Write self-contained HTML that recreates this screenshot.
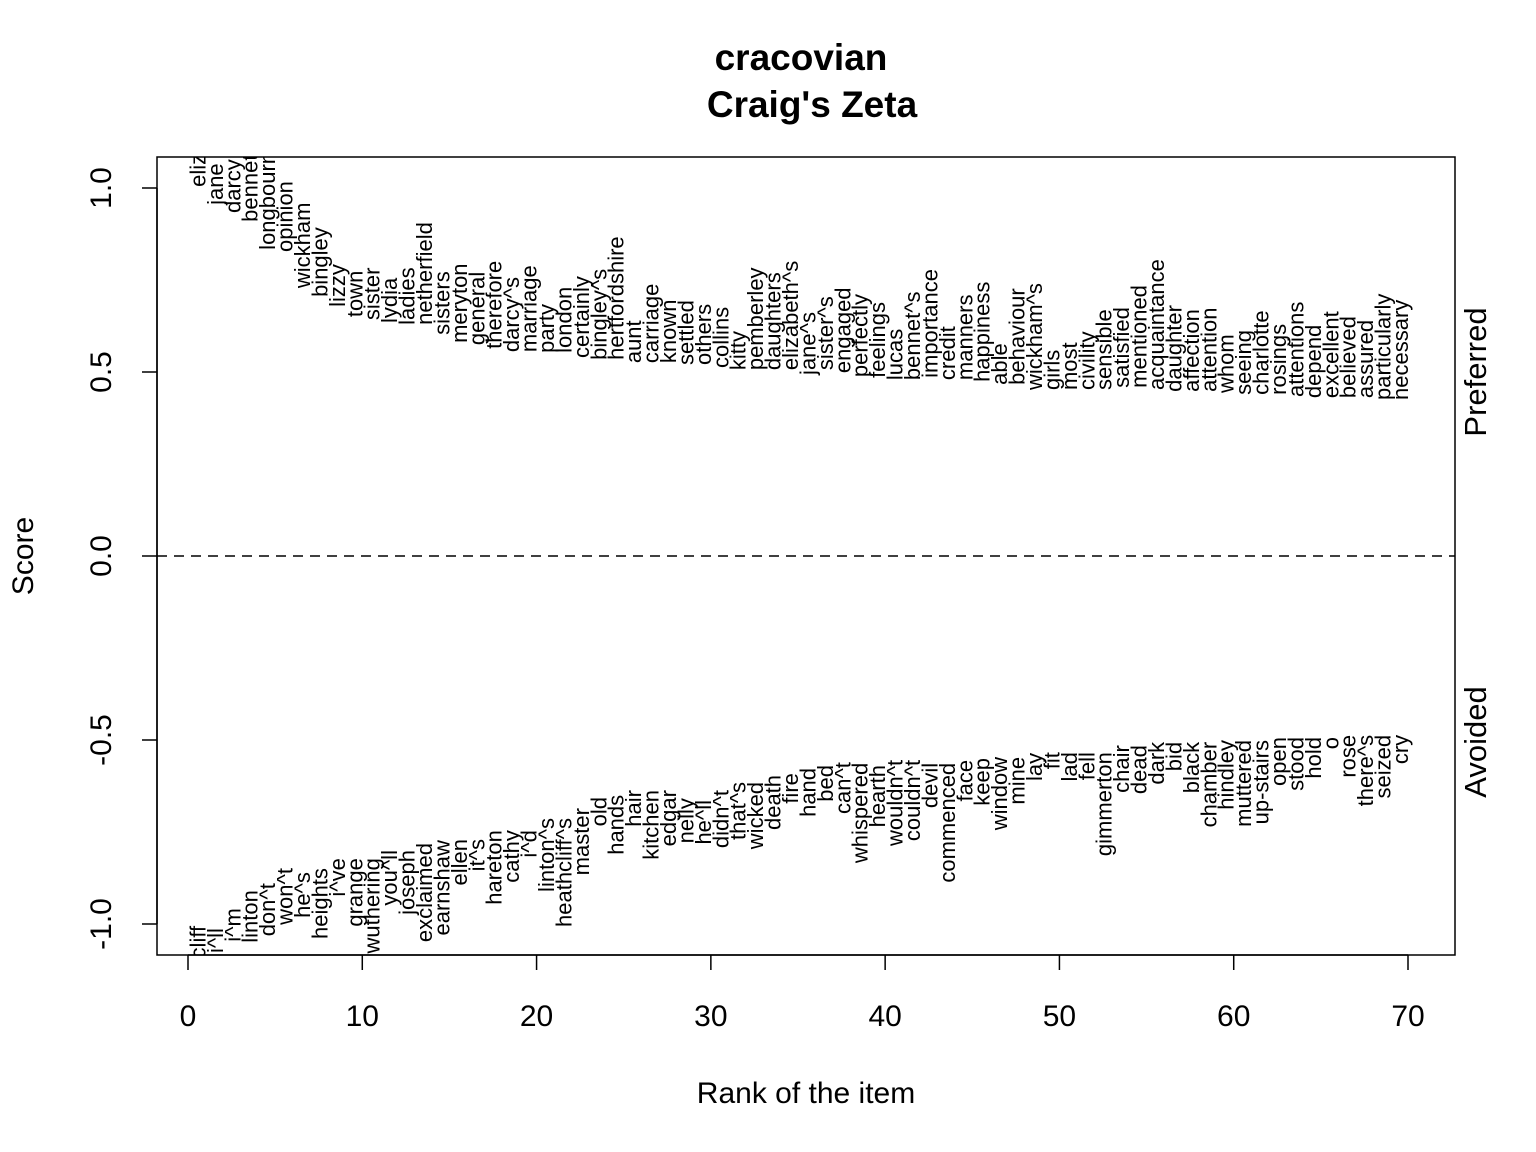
<!DOCTYPE html>
<html><head><meta charset="utf-8"><style>
html,body{margin:0;padding:0;background:#fff}
svg{display:block;font-family:"Liberation Sans",Arial,sans-serif}
</style></head><body>
<svg id="chart" width="1536" height="1152" viewBox="0 0 1536 1152" xmlns="http://www.w3.org/2000/svg">
<defs><clipPath id="plotclip"><rect x="157" y="157" width="1298" height="798"/></clipPath></defs>
<text x="801" y="70" text-anchor="middle" font-size="37" font-weight="bold">cracovian</text>
<text x="812" y="117" text-anchor="middle" font-size="37" font-weight="bold">Craig's Zeta</text>
<rect x="157" y="157" width="1298" height="798" fill="none" stroke="#000" stroke-width="1.5"/>
<line x1="157" x2="1455" y1="556" y2="556" stroke="#000" stroke-width="1.5" stroke-dasharray="10,7"/>
<g id="xaxis"></g>
<g id="yaxis"></g>
<g id="words" clip-path="url(#plotclip)"></g>
<text x="806" y="1103" text-anchor="middle" font-size="30">Rank of the item</text>
<text transform="translate(33,556) rotate(-90)" text-anchor="middle" font-size="30">Score</text>
<text transform="translate(1486,372) rotate(-90)" text-anchor="middle" font-size="31">Preferred</text>
<text transform="translate(1486,742) rotate(-90)" text-anchor="middle" font-size="31">Avoided</text>
</svg>
<script>
const preferredWords = ["eliz","jane","darcy","bennet","longbourn","opinion","wickham","bingley","lizzy","town","sister","lydia","ladies","netherfield","sisters","meryton","general","therefore","darcy^s","marriage","party","london","certainly","bingley^s","hertfordshire","aunt","carriage","known","settled","others","collins","kitty","pemberley","daughters","elizabeth^s","jane^s","sister^s","engaged","perfectly","feelings","lucas","bennet^s","importance","credit","manners","happiness","able","behaviour","wickham^s","girls","most","civility","sensible","satisfied","mentioned","acquaintance","daughter","affection","attention","whom","seeing","charlotte","rosings","attentions","depend","excellent","believed","assured","particularly","necessary"];
const preferredScores = [1.003,0.954,0.932,0.908,0.832,0.826,0.728,0.704,0.677,0.649,0.641,0.633,0.628,0.628,0.601,0.579,0.573,0.563,0.554,0.554,0.552,0.552,0.538,0.533,0.533,0.524,0.524,0.524,0.519,0.519,0.511,0.505,0.505,0.505,0.505,0.492,0.505,0.497,0.486,0.484,0.478,0.478,0.484,0.478,0.478,0.473,0.465,0.465,0.451,0.451,0.451,0.451,0.451,0.457,0.457,0.451,0.446,0.446,0.446,0.443,0.438,0.438,0.438,0.432,0.429,0.429,0.429,0.429,0.424,0.424];
const avoidedWords = ["cliff","i^ll","i^m","linton","don^t","won^t","he^s","heights","i^ve","grange","wuthering","you^ll","joseph","exclaimed","earnshaw","ellen","it^s","hareton","cathy","i^d","linton^s","heathcliff^s","master","old","hands","hair","kitchen","edgar","nelly","he^ll","didn^t","that^s","wicked","death","fire","hand","bed","can^t","whispered","hearth","wouldn^t","couldn^t","devil","commenced","face","keep","window","mine","lay","fit","lad","fell","gimmerton","chair","dead","dark","bid","black","chamber","hindley","muttered","up-stairs","open","stood","hold","o","rose","there^s","seized","cry"];
const avoidedScores = [-1.005,-1.011,-0.957,-0.908,-0.889,-0.848,-0.859,-0.848,-0.821,-0.821,-0.821,-0.799,-0.799,-0.780,-0.772,-0.769,-0.769,-0.745,-0.745,-0.745,-0.712,-0.712,-0.685,-0.655,-0.649,-0.636,-0.636,-0.636,-0.658,-0.663,-0.636,-0.614,-0.614,-0.595,-0.590,-0.576,-0.568,-0.560,-0.562,-0.568,-0.554,-0.554,-0.562,-0.562,-0.554,-0.549,-0.546,-0.546,-0.535,-0.533,-0.533,-0.533,-0.533,-0.514,-0.514,-0.505,-0.505,-0.505,-0.505,-0.500,-0.500,-0.500,-0.492,-0.492,-0.492,-0.492,-0.486,-0.486,-0.486,-0.486];
const xTicks = [0,10,20,30,40,50,60,70];
const yTicks = [-1.0,-0.5,0.0,0.5,1.0];
const yTickLabels = ["-1.0","-0.5","0.0","0.5","1.0"];

const NS = "http://www.w3.org/2000/svg";
const xScale = r => 188 + (r / 70) * 1220;
const yScale = s => 556 - s * 368;

const xa = document.getElementById('xaxis');
const ya = document.getElementById('yaxis');
const words = document.getElementById('words');

function mk(tag, attrs, parent) {
  const e = document.createElementNS(NS, tag);
  for (const k in attrs) e.setAttribute(k, attrs[k]);
  parent.appendChild(e);
  return e;
}

const xl = mk('line', {x1: xScale(xTicks[0]), x2: xScale(xTicks[xTicks.length-1]), y1: 955, y2: 955, stroke: '#000', 'stroke-width': 1.5}, xa);


xTicks.forEach(t => {
  const tk = mk('line', {x1: xScale(t), x2: xScale(t), y1: 955, y2: 970, stroke: '#000', 'stroke-width': 1.5}, xa);
  
  
  const lb = mk('text', {x: xScale(t), y: 1026, 'text-anchor': 'middle', 'font-size': 30}, xa);
  lb.textContent = t;
  
  
});

const yl = mk('line', {x1: 157, x2: 157, y1: yScale(yTicks[0]), y2: yScale(yTicks[yTicks.length-1]), stroke: '#000', 'stroke-width': 1.5}, ya);


yTicks.forEach((t, i) => {
  const tk = mk('line', {x1: 142, x2: 157, y1: yScale(t), y2: yScale(t), stroke: '#000', 'stroke-width': 1.5}, ya);
  
  
  const lb = mk('text', {transform: `translate(111,${yScale(t)}) rotate(-90)`, 'text-anchor': 'middle', 'font-size': 30}, ya);
  lb.textContent = yTickLabels[i];
  
  
});

preferredWords.forEach((w, i) => {
  const t = mk('text', {transform: `translate(${xScale(i + 1)},${yScale(preferredScores[i])}) rotate(-90)`, 'text-anchor': 'start', 'font-size': 22}, words);
  t.textContent = w;
  
  
});
avoidedWords.forEach((w, i) => {
  const t = mk('text', {transform: `translate(${xScale(i + 1)},${yScale(avoidedScores[i])}) rotate(-90)`, 'text-anchor': 'end', 'font-size': 22}, words);
  t.textContent = w;
  
  
});
</script>
</body></html>
